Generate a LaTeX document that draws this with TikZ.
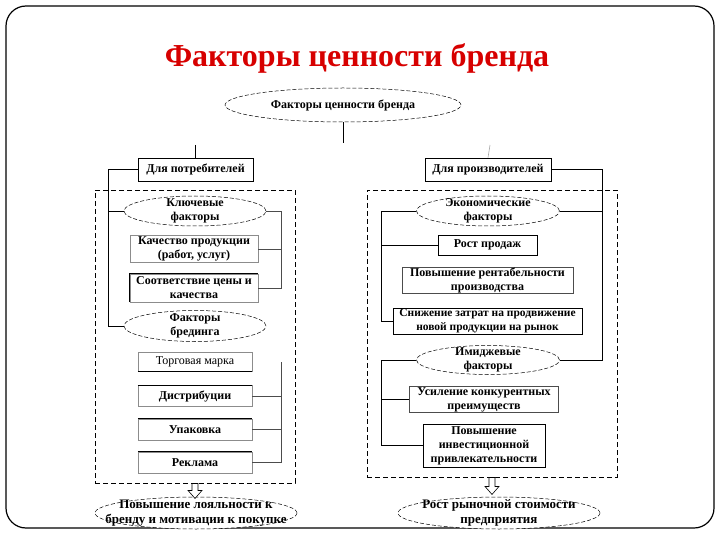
\documentclass[tikz,border=0pt]{standalone}
\usepackage{fontspec}
\setmainfont{Liberation Serif}
\usetikzlibrary{shapes.geometric}
\definecolor{titlered}{RGB}{215,0,0}
\begin{document}
\begin{tikzpicture}[x=1pt,y=-1pt,
 every node/.style={font=\bfseries\fontsize{12}{14}\selectfont, align=center},
 ell/.style={ellipse, draw, line width=0.5pt, dash pattern=on 4pt off 2pt, inner xsep=-60pt, inner ysep=-20pt, fill=white},
 box/.style={rectangle, draw, line width=0.7pt, inner sep=0pt},
 lbox/.style={rectangle, draw=black!45, line width=0.4pt, inner sep=0pt},
 group/.style={rectangle, draw, line width=0.9pt, dash pattern=on 5pt off 3pt, inner sep=0pt},
 conn/.style={line width=0.6pt},
 harrow/.style={draw, line width=0.6pt, fill=white}
]
\useasboundingbox (0,0) rectangle (720,540);
\draw[line width=1.2pt, rounded corners=20pt] (6,6) rectangle (714,528);
\node[font=\bfseries\fontsize{32}{36}\selectfont, text=titlered] (title) at (357,58) {Факторы ценности бренда};

% groups
\node[group, minimum width=200pt, minimum height=293pt] (lgrp) at (195,336.5) {};
\node[group, minimum width=250pt, minimum height=287pt] (rgrp) at (492,333.5) {};

% top
\node[ell, minimum width=236pt, minimum height=34pt] (top) at (343,105) {Факторы ценности бренда};
\coordinate (topend) at (343,143);
\node[box, minimum width=115pt, minimum height=23pt] (cons) at (195.5,169.5) {Для потребителей};
\node[box, minimum width=126pt, minimum height=23pt] (prod) at (488,169.5) {Для производителей};
\coordinate (consst) at (195.5,145);
\coordinate (prodst) at (490,145);

% left column
\node[ell, minimum width=142pt, minimum height=30pt] (key) at (195,211) {Ключевые\\факторы};
\node[lbox, minimum width=128pt, minimum height=27pt] (q1) at (194,249) {Качество продукции\\(работ, услуг)};
\node[lbox, minimum width=128pt, minimum height=28pt] (q2) at (194,288) {Соответствие цены и\\качества};
\node[ell, minimum width=142pt, minimum height=31pt] (brand) at (195,326) {Факторы\\брединга};
\node[lbox, minimum width=114pt, minimum height=19pt, font=\fontsize{12}{14}\selectfont] (tm) at (195,362) {Торговая марка};
\node[lbox, minimum width=114pt, minimum height=21pt] (dist) at (195,396) {Дистрибуции};
\node[lbox, minimum width=114pt, minimum height=21pt] (upak) at (195,429.5) {Упаковка};
\node[lbox, minimum width=114pt, minimum height=21pt] (rekl) at (195,462.5) {Реклама};
\draw[line width=0.9pt] (tm.south west) -- (tm.south east);
\draw[line width=0.9pt] (dist.north west) -- (dist.north east);
\draw[line width=0.9pt] (upak.north west) -- (upak.north east);
\draw[line width=0.9pt] (rekl.north west) -- (rekl.north east);
\draw[line width=0.9pt] (q2.south west) |- (q2.north east);
\node[ell, minimum width=202pt, minimum height=32pt, font=\bfseries\fontsize{13}{15}\selectfont] (lres) at (196,513) {Повышение лояльности к\\бренду и мотивации к покупке};

% right column
\node[ell, minimum width=143pt, minimum height=30pt] (econ) at (488,211) {Экономические\\факторы};
\node[box, minimum width=99pt, minimum height=20pt] (rp) at (487.5,245) {Рост продаж};
\node[lbox, draw=black!70, minimum width=171pt, minimum height=26pt] (pr) at (487.5,280) {Повышение рентабельности\\производства};
\node[box, minimum width=189pt, minimum height=26pt, font=\bfseries\fontsize{11.5}{13.5}\selectfont] (sz) at (487.5,321) {Снижение затрат на продвижение\\новой продукции на рынок};
\node[ell, minimum width=143pt, minimum height=29pt] (img) at (488,360) {Имиджевые\\факторы};
\node[lbox, draw=black!70, minimum width=149pt, minimum height=26pt] (uk) at (484,399.5) {Усиление конкурентных\\преимуществ};
\node[box, minimum width=122pt, minimum height=43pt] (pi) at (484,445.5) {Повышение\\инвестиционной\\привлекательности};
\node[ell, minimum width=202pt, minimum height=32pt, font=\bfseries\fontsize{13}{15}\selectfont] (rres) at (499,513) {Рост рыночной стоимости\\предприятия};

% bus coordinates
\coordinate (lx) at (108,0);
\coordinate (rx1) at (281,0);
\coordinate (lx2) at (381,0);
\coordinate (rx2) at (602,0);

% connectors
\draw[conn] (top.south) -- (topend);
\draw[conn] (consst) -- (cons.north);
\draw[conn, black!35] (prodst) -- (prod.north);
\draw[conn] (cons.west) -| (brand.west -| lx) -- (brand.west);
\draw[conn] (key.west -| lx) -- (key.west);
\draw[conn, black!70] (key.east) -| (q2.east -| rx1) -- (q2.east);
\draw[conn, black!70] (q1.east) -- (q1.east -| rx1);
\draw[conn, black!70] (tm.east -| rx1) -- (rekl.east -| rx1) -- (rekl.east);
\draw[conn, black!70] (dist.east) -- (dist.east -| rx1);
\draw[conn, black!70] (upak.east) -- (upak.east -| rx1);
\draw[conn] (econ.west) -| (sz.west -| lx2) -- (sz.west);
\draw[conn] (rp.west -| lx2) -- (rp.west);
\draw[conn] (img.west) -| (pi.west -| lx2) -- (pi.west);
\draw[conn] (uk.west -| lx2) -- (uk.west);
\draw[conn] (prod.east) -| (img.east -| rx2) -- (img.east);
\draw[conn] (econ.east) -- (econ.east -| rx2);

% hollow arrows
\draw[harrow] (lgrp.south) ++(-3,0) -- ++(0,7) -- ++(-4,0) -- ++(7,8) -- ++(7,-8) -- ++(-4,0) -- ++(0,-7) -- cycle;
\draw[harrow] (rgrp.south) ++(-3,0) -- ++(0,9) -- ++(-4,0) -- ++(7,8) -- ++(7,-8) -- ++(-4,0) -- ++(0,-9) -- cycle;
\end{tikzpicture}
\end{document}
